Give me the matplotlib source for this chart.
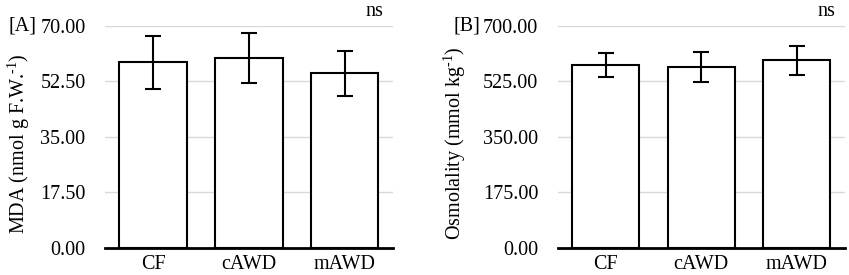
import matplotlib.pyplot as plt
import numpy as np

plt.rcParams['font.family'] = ['Liberation Serif', 'DejaVu Serif']
plt.rcParams['mathtext.fontset'] = 'custom'
plt.rcParams['mathtext.rm'] = 'Liberation Serif'

# treatments
groups = ["CF", "cAWD", "mAWD"]

# [A] MDA content
mda_mean = [58.4, 59.8, 55.0]
mda_err = [8.2, 8.0, 7.1]

# [B] osmolality
osm_mean = [576, 570, 591]
osm_err = [38, 47, 46]

fig = plt.figure(figsize=(8.49, 2.75), dpi=100)
ax_a = fig.add_axes([0.1237, 0.098, 0.339, 0.809])
ax_b = fig.add_axes([0.657, 0.098, 0.338, 0.809])

FS = 14.5

def draw_panel(ax, means, errs, top, label, ylab, lab_x, ylab_x):
    x = np.arange(len(groups))
    ax.bar(x, means, width=0.7, color='white', edgecolor='black',
           linewidth=1.5, zorder=3)
    ax.errorbar(x, means, yerr=errs, fmt='none', ecolor='black',
                elinewidth=1.5, capsize=5.5, capthick=1.5, zorder=4)
    ax.set_xlim(-0.5, 2.5)
    ax.set_ylim(0, top)
    ticks = np.linspace(0, top, 5)
    ax.set_yticks(ticks)
    ax.set_yticklabels([f"{t:.2f}" for t in ticks])
    ax.set_xticks(x)
    ax.set_xticklabels(groups)
    ax.tick_params(axis='both', length=0, labelsize=FS)
    ax.tick_params(axis='y', pad=14)
    ax.tick_params(axis='x', pad=5)
    ax.yaxis.grid(True, color='#d9d9d9', linewidth=1)
    ax.set_axisbelow(True)
    for s in ['left', 'right', 'top']:
        ax.spines[s].set_visible(False)
    ax.spines['bottom'].set_linewidth(2)
    ax.spines['bottom'].set_zorder(5)
    ax.set_ylabel(ylab, fontsize=FS)
    ax.yaxis.set_label_coords(ylab_x, 0.47)
    ax.text(lab_x, 1.0, label, transform=ax.transAxes, fontsize=FS,
            ha='left', va='center')
    ax.text(0.935, 1.065, "ns", transform=ax.transAxes, fontsize=FS,
            ha='center', va='center')

draw_panel(ax_a, mda_mean, mda_err, 70, "[A]",
           r"MDA (nmol g F.W.$^{\text{-1}}$)", -0.335, -0.255)
draw_panel(ax_b, osm_mean, osm_err, 700, "[B]",
           r"Osmolality (mmol kg$^{\text{-1}}$)", -0.362, -0.312)

fig.savefig("out.png", dpi=100)
